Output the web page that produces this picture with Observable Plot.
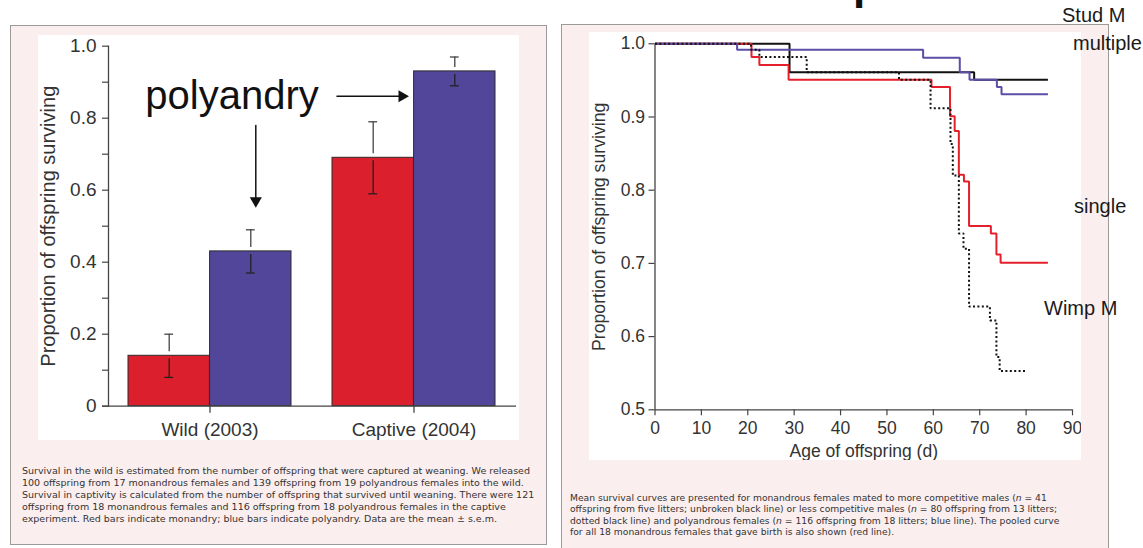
<!DOCTYPE html>
<html>
<head>
<meta charset="utf-8">
<script src="https://cdn.jsdelivr.net/npm/d3@7"></script>
<script src="https://cdn.jsdelivr.net/npm/@observablehq/plot@0.6"></script>
<style>
  html, body { margin: 0; padding: 0; }
  body { width: 1143px; height: 548px; overflow: hidden; position: relative; background: #fff;
         font-family: "Liberation Sans", Arial, Helvetica, sans-serif; }
  .box { position: absolute; background: #fbeeee; border: 1.5px solid #9a9a9a; box-sizing: border-box; }
  .chart { position: absolute; background: #fff; }
  .chart svg { display: block; }
  .cap { position: absolute; font-family: "DejaVu Sans", Verdana, sans-serif;
         color: #333; white-space: nowrap; }
  .side { position: absolute; font-size: 20px; color: #1a1a1a; line-height: 20px; white-space: nowrap; }
</style>
</head>
<body>
<div class="box" style="left:10px; top:25px; width:537px; height:520px;"></div>
<div class="box" style="left:561px; top:24px; width:548px; height:540px;"></div>
<div id="left" class="chart" style="left:38px; top:35px; width:481px; height:405px;"></div>
<div id="right" class="chart" style="left:589px; top:32px; width:492px; height:428px;"></div>

<div class="cap" style="left:22px; top:465px; font-size:9.52px; line-height:11.9px;">
Survival in the wild is estimated from the number of offspring that were captured at weaning. We released<br>
100 offspring from 17 monandrous females and 139 offspring from 19 polyandrous females into the wild.<br>
Survival in captivity is calculated from the number of offspring that survived until weaning. There were 121<br>
offspring from 18 monandrous females and 116 offspring from 18 polyandrous females in the captive<br>
experiment. Red bars indicate monandry; blue bars indicate polyandry. Data are the mean ± s.e.m.
</div>
<div class="cap" style="left:570px; top:491.5px; font-size:9.2px; line-height:11.5px;">
Mean survival curves are presented for monandrous females mated to more competitive males (<i>n</i> = 41<br>
offspring from five litters; unbroken black line) or less competitive males (<i>n</i> = 80 offspring from 13 litters;<br>
dotted black line) and polyandrous females (<i>n</i> = 116 offspring from 18 litters; blue line). The pooled curve<br>
for all 18 monandrous females that gave birth is also shown (red line).
</div>

<div class="side" style="left:1062px; top:5px;">Stud M</div>
<div class="side" style="left:1073px; top:33px;">multiple</div>
<div class="side" style="left:1074px; top:196px;">single</div>
<div class="side" style="left:1044px; top:298px;">Wimp M</div>
<div style="position:absolute; left:853px; top:-38px; font-size:44px; line-height:44px; font-weight:bold; color:#111;">p</div>

<script>
// ---------- Left chart data: mean proportion of offspring surviving ----------
const groups = ["Wild (2003)", "Captive (2004)"];
const meanMono = [0.14, 0.69];
const loMono   = [0.08, 0.59];
const hiMono   = [0.20, 0.79];
const meanPoly = [0.43, 0.93];
const loPoly   = [0.37, 0.89];
const hiPoly   = [0.49, 0.97];
const leftYTicks  = [0, 0.1, 0.2, 0.3, 0.4, 0.5, 0.6, 0.7, 0.8, 0.9, 1.0];
const leftYLabels = ["0", "", "0.2", "", "0.4", "", "0.6", "", "0.8", "", "1.0"];
const annotationText = "polyandry";

// ---------- Right chart data: survival curves (step points) ----------
const studDays   = [0, 29, 68.8, 84.7];
const studSurv   = [1.0, 0.961, 0.951, 0.951];
const wimpDays   = [0, 20.7, 22.5, 32.7, 52.6, 59.4, 63.7, 64.2, 65.5, 66.5, 67.7, 72.2, 73.6, 74.3, 80.1];
const wimpSurv   = [1.0, 0.992, 0.982, 0.961, 0.951, 0.912, 0.863, 0.820, 0.741, 0.720, 0.641, 0.622, 0.572, 0.553, 0.553];
const polyDays   = [0, 17.7, 57.8, 65.7, 67.8, 73.7, 74.7, 84.7];
const polySurv   = [1.0, 0.992, 0.981, 0.961, 0.951, 0.941, 0.931, 0.931];
const pooledDays = [0, 20.8, 22.5, 28.8, 59.6, 63.6, 64.6, 65.5, 66.6, 67.7, 72.4, 73.6, 74.5, 84.7];
const pooledSurv = [1.0, 0.982, 0.971, 0.951, 0.941, 0.901, 0.881, 0.821, 0.812, 0.751, 0.741, 0.712, 0.701, 0.701];
const ageTicks  = [0, 10, 20, 30, 40, 50, 60, 70, 80, 90];
const survTicks = [0.5, 0.6, 0.7, 0.8, 0.9, 1.0];

// ---------- Left chart ----------
const RED = "#dc1f2d", BLUE = "#52469b", INK = "#2b2b2b";
const L = {width: 481, height: 405, marginLeft: 70, marginRight: 3, marginTop: 10.7, marginBottom: 34.3};
const padIn = 0.2, padOut = 0.1;
const step = (L.width - L.marginLeft - L.marginRight) / (groups.length - padIn + 2 * padOut);
const BW = step * (1 - padIn);       // group bandwidth
const half = BW / 4;                 // offset of each bar centre from group centre
const capIn = (BW - 9) / 2;

const rows = groups.flatMap((g, i) => [
  {group: g, mating: "Monandry", mean: meanMono[i], lo: loMono[i], hi: hiMono[i]},
  {group: g, mating: "Polyandry", mean: meanPoly[i], lo: loPoly[i], hi: hiPoly[i]}
]);
const mono = rows.filter(d => d.mating === "Monandry");
const poly = rows.filter(d => d.mating === "Polyandry");

function errorMarks(data, dx) {
  return [
    Plot.ruleX(data, {x: "group", y1: "hi", y2: "mean", dx, stroke: "#444", strokeWidth: 1.3, insetBottom: 4}),
    Plot.ruleX(data, {x: "group", y1: "mean", y2: "lo", dx, stroke: "#222", strokeWidth: 1.3, insetTop: 3}),
    Plot.tickY(data, {x: "group", y: "hi", dx, stroke: "#444", strokeWidth: 1.3, insetLeft: capIn, insetRight: capIn}),
    Plot.tickY(data, {x: "group", y: "lo", dx, stroke: "#222", strokeWidth: 1.3, insetLeft: capIn, insetRight: capIn})
  ];
}

const left = Plot.plot({
  ...L,
  style: {fontFamily: "'Liberation Sans', Arial, Helvetica, sans-serif", fontSize: "19px", color: "#333", background: "transparent"},
  x: {type: "band", domain: groups, paddingInner: padIn, paddingOuter: padOut},
  y: {domain: [0, 1]},
  marks: [
    Plot.barY(mono, {x: "group", y: "mean", fill: RED, stroke: INK, strokeWidth: 1, insetRight: BW / 2}),
    Plot.barY(poly, {x: "group", y: "mean", fill: BLUE, stroke: INK, strokeWidth: 1, insetLeft: BW / 2}),
    ...errorMarks(mono, -half),
    ...errorMarks(poly, half),
    Plot.ruleY([0], {stroke: "#444", strokeWidth: 1.3, insetLeft: -6}),
    Plot.axisY(leftYTicks, {tickSize: 6, tickPadding: 6, fontSize: 19, stroke: "#444", strokeWidth: 1.2,
      tickFormat: d => leftYLabels[leftYTicks.indexOf(d)], label: null}),
    Plot.frame({anchor: "left", stroke: "#444", strokeWidth: 1.3}),
    Plot.axisX({tickSize: 7, tickPadding: 9, fontSize: 19, stroke: "#444", strokeWidth: 1.3, label: null}),
    Plot.text(["Proportion of offspring surviving"], {frameAnchor: "left", textAnchor: "middle", lineAnchor: "middle",
      rotate: -90, dx: -60, fontSize: 20, fill: "#333"}),
    // annotation
    Plot.text([annotationText], {x: () => groups[0], y: () => 0.8625, dx: 22, fontSize: 40, fill: "#111"}),
    Plot.arrow([0], {x1: () => groups[0], x2: () => groups[0], y1: () => 0.78, y2: () => 0.571, dx: half + 5,
      headLength: 0, bend: 0, stroke: "#111", strokeWidth: 1.5}),
    Plot.dot([0], {x: () => groups[0], y: () => 0.571, dx: half + 5, symbol: "triangle", r: 4.5, rotate: 180, fill: "#111", stroke: "none"}),
    Plot.arrow([0], {x1: () => groups[0], x2: () => groups[1], y1: () => 0.861, y2: () => 0.861,
      insetStart: 127, insetEnd: 12, headLength: 0, bend: 0, stroke: "#111", strokeWidth: 1.5}),
    Plot.dot([0], {x: () => groups[1], y: () => 0.861, dx: -12, symbol: "triangle", r: 4.5, rotate: 90, fill: "#111", stroke: "none"})
  ]
});
document.getElementById("left").append(left);

// ---------- Right chart ----------
const series = [
  {name: "stud", days: studDays, surv: studSurv, color: "#111", dash: null},
  {name: "pooled", days: pooledDays, surv: pooledSurv, color: "#e3202b", dash: null},
  {name: "poly", days: polyDays, surv: polySurv, color: "#5a4ea6", dash: null},
  {name: "wimp", days: wimpDays, surv: wimpSurv, color: "#111", dash: "2,2.4"}
];
const lineMarks = series.map(s => Plot.line(s.days.map((d, i) => ({day: d, surv: s.surv[i]})), {
  x: "day", y: "surv", curve: "step-after", stroke: s.color, strokeWidth: 2,
  strokeDasharray: s.dash ?? undefined, strokeLinejoin: "miter", strokeLinecap: "butt"
}));

const right = Plot.plot({
  width: 492, height: 428, marginLeft: 65.5, marginRight: 9, marginTop: 11.3, marginBottom: 50.7,
  style: {fontFamily: "'Liberation Sans', Arial, Helvetica, sans-serif", fontSize: "17.5px", color: "#333", background: "transparent"},
  x: {domain: [0, 90]},
  y: {domain: [0.5, 1.0]},
  marks: [
    Plot.ruleX([0], {stroke: "#444", strokeWidth: 1.3}),
    Plot.ruleY([0.5], {stroke: "#444", strokeWidth: 1.3}),
    Plot.axisY(survTicks, {tickSize: 6, tickPadding: 4, fontSize: 17.5, tickFormat: d3.format(".1f"), stroke: "#444", strokeWidth: 1.2, label: null}),
    Plot.axisX(ageTicks, {tickSize: 6, tickPadding: 6, fontSize: 17.5, stroke: "#444", strokeWidth: 1.2, label: null}),
    ...lineMarks,
    Plot.text(["Proportion of offspring surviving"], {frameAnchor: "left", textAnchor: "middle", lineAnchor: "middle",
      rotate: -90, dx: -55.5, fontSize: 17.7, fill: "#333"}),
    Plot.text(["Age of offspring (d)"], {frameAnchor: "bottom", textAnchor: "middle", lineAnchor: "middle",
      dy: 42, fontSize: 17.5, fill: "#333"})
  ]
});
document.getElementById("right").append(right);
</script>
</body>
</html>
